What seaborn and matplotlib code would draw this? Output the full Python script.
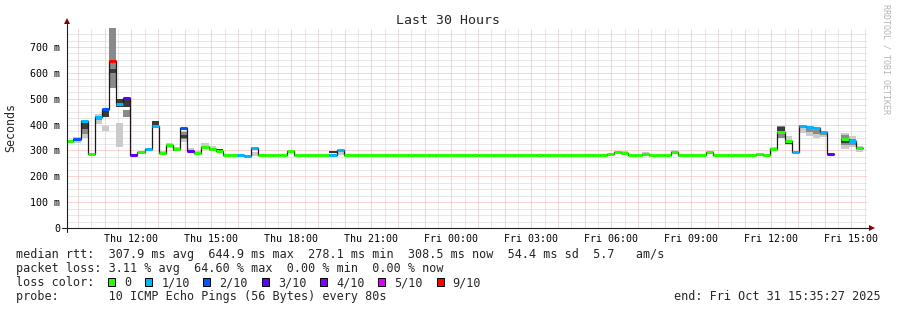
import numpy as np
import pandas as pd
import matplotlib
matplotlib.use("Agg")
import matplotlib.pyplot as plt
from matplotlib.patches import Rectangle
from matplotlib.ticker import FixedLocator, FixedFormatter
import seaborn as sns

# ------------------------------------------------------------------ data
title = "Last 30 Hours"
y_label = "Seconds"
window_start = "2025-10-30 09:35:27"
window_hours = 30
bin_minutes = 16
first_bin_offset_min = -1.6          # consolidated bins are aligned slightly before window start

# median rtt per 16-minute bin (ms); nan = no data
median_ms = [
    336, 343, 414, 286, 430, 461, 644.9, 480, 503, 283,
    293, 307, 393, 291, 320, 307, 386, 297, 291, 312,
    307, 297, 284, 284, 284, 278.1, 308, 284, 284, 284,
    284, 298, 284, 284, 284, 284, 284, 284, 302, 284,
    284, 284, 284, 284, 284, 284, 284, 284, 284, 284,
    284, 284, 284, 284, 284, 284, 284, 284, 284, 284,
    284, 284, 284, 284, 284, 284, 284, 284, 284, 284,
    284, 284, 284, 284, 284, 284, 288, 292, 290, 284,
    284, 287, 284, 284, 284, 294, 284, 284, 284, 284,
    293, 284, 284, 284, 284, 284, 284, 287, 284, 307,
    372, 336, 293, 394, 389, 385, 370, 285, np.nan, 344,
    336, 308.5,
]
# lost pings out of 10 per bin
loss_tenths = [
    0, 2, 1, 0, 1, 2, 9, 1, 3, 3,
    0, 1, 1, 0, 0, 0, 2, 3, 0, 0,
    0, 0, 0, 0, 1, 1, 1, 0, 0, 0,
    0, 0, 0, 0, 0, 0, 0, 1, 1, 0,
    0, 0, 0, 0, 0, 0, 0, 0, 0, 0,
    0, 0, 0, 0, 0, 0, 0, 0, 0, 0,
    0, 0, 0, 0, 0, 0, 0, 0, 0, 0,
    0, 0, 0, 0, 0, 0, 0, 0, 0, 0,
    0, 0, 0, 0, 0, 0, 0, 0, 0, 0,
    0, 0, 0, 0, 0, 0, 0, 0, 0, 0,
    0, 0, 1, 1, 1, 1, 1, 3, 0, 0,
    1, 0,
]

# smoke (spread of the individual pings), sparse per bin, ms
nan = np.nan
smoke_bin      = [1,   2,   4,   5,   6,   7,   8,   12,  13,  14,  15,  16,  17,  18,  19,  20,  21,  26,  37,  38,  78,  81,  85,  99,  100, 101, 103, 104, 105, 106, 109, 110, 111]
smoke_light_lo = [330, 350, 404, 376, nan, 315, nan, nan, 291, 308, 296, 334, 297, 291, 305, 300, nan, 278, nan, 282, 290, 287, 294, 304, nan, 320, 366, 356, 347, 351, 304, 314, 295]
smoke_light_hi = [351, 416, 440, 394, nan, 405, nan, nan, 298, 330, 312, 376, 308, 298, 328, 316, nan, 293, nan, 299, 296, 293, 302, 312, nan, 356, 398, 389, 379, 375, 369, 356, 317]
smoke_mid_lo   = [nan, 362, 418, nan, 540, nan, 430, nan, nan, nan, nan, 345, nan, nan, nan, 304, nan, nan, nan, nan, nan, nan, nan, nan, 347, nan, 385, 372, 365, 360, 320, 322, nan]
smoke_mid_hi   = [nan, 395, 432, nan, 780, nan, 458, nan, nan, nan, nan, 370, nan, nan, nan, 310, nan, nan, nan, nan, nan, nan, nan, nan, 394, nan, 398, 385, 379, 370, 360, 345, nan]
smoke_dark_lo  = [nan, 381, nan, 430, 598, 467, 467, 393, nan, nan, 299, 350, nan, nan, nan, nan, 297, nan, 289, nan, nan, nan, nan, nan, 375, 324, nan, nan, nan, nan, 327, nan, nan]
smoke_dark_hi  = [nan, 413, nan, 461, 614, 497, 500, 412, nan, nan, 306, 358, nan, nan, nan, nan, 305, nan, 298, nan, nan, nan, nan, nan, 392, 334, nan, nan, nan, nan, 340, nan, nan]

loss_keys = [0, 1, 2, 3, 4, 5, 9]
loss_labels = ["0", "1/10", "2/10", "3/10", "4/10", "5/10", "9/10"]
loss_colors = ["#26ff00", "#00b8ff", "#0059ff", "#5e00ff", "#7e00ff", "#dd00ff", "#ff0000"]

y_ticks = [0, 100, 200, 300, 400, 500, 600, 700]
y_tick_labels = ["0", "100 m", "200 m", "300 m", "400 m", "500 m", "600 m", "700 m"]
x_tick_times = ["2025-10-30 12:00", "2025-10-30 15:00", "2025-10-30 18:00", "2025-10-30 21:00",
                "2025-10-31 00:00", "2025-10-31 03:00", "2025-10-31 06:00", "2025-10-31 09:00",
                "2025-10-31 12:00", "2025-10-31 15:00"]
x_tick_labels = ["Thu 12:00", "Thu 15:00", "Thu 18:00", "Thu 21:00", "Fri 00:00",
                 "Fri 03:00", "Fri 06:00", "Fri 09:00", "Fri 12:00", "Fri 15:00"]

legend_rtt = "median rtt:  307.9 ms avg  644.9 ms max  278.1 ms min  308.5 ms now  54.4 ms sd  5.7   am/s"
legend_loss = "packet loss: 3.11 % avg  64.60 % max  0.00 % min  0.00 % now"
legend_color_title = "loss color:"
legend_probe = "probe:       10 ICMP Echo Pings (56 Bytes) every 80s"
legend_end = "end: Fri Oct 31 15:35:27 2025"
watermark = "RRDTOOL / TOBI OETIKER"

# ------------------------------------------------------------------ style
sns.set_style("white")
plt.rcParams["font.family"] = ["DejaVu Sans Mono"]
MONO = "DejaVu Sans Mono"

W, H = 897, 310
fig = plt.figure(figsize=(W / 100, H / 100), dpi=100)
fig.patch.set_facecolor("white")

def fx(x):
    return x / W

def fy(y):
    return 1 - y / H

ax = fig.add_axes([fx(67), fy(228), 800 / W, 200 / H])
ax.set_facecolor("white")

start = pd.Timestamp(window_start)
def hours_of(ts):
    return (pd.Timestamp(ts) - start) / pd.Timedelta(hours=1)

n_bins = len(median_ms)
med = np.array(median_ms, dtype=float)
loss = np.array(loss_tenths)
bin_w = bin_minutes / 60.0
left = first_bin_offset_min / 60.0 + np.arange(n_bins) * bin_w
right = left + bin_w

ax.set_xlim(0, window_hours)
ax.set_ylim(0, 773.5)

# grid / ticks
first_hour = hours_of(start.ceil("h"))
major_x = first_hour + np.arange(0, window_hours)
major_x = major_x[major_x <= window_hours]
minor_x = first_hour - 0.5 + np.arange(0, window_hours + 1)
minor_x = minor_x[(minor_x >= 0) & (minor_x <= window_hours)]
label_pos = [hours_of(t) for t in x_tick_times]
labels_full = []
for v in major_x:
    lab = ""
    for p, l in zip(label_pos, x_tick_labels):
        if abs(p - v) < 1e-6:
            lab = l
    labels_full.append(lab)
ax.xaxis.set_major_locator(FixedLocator(major_x))
ax.xaxis.set_major_formatter(FixedFormatter(labels_full))
ax.xaxis.set_minor_locator(FixedLocator(minor_x))
ax.yaxis.set_major_locator(FixedLocator(y_ticks))
ax.yaxis.set_major_formatter(FixedFormatter(y_tick_labels))
ax.yaxis.set_minor_locator(FixedLocator(np.arange(25, 775, 25)))

ax.set_axisbelow(True)
ax.grid(which="major", color="#ffaaaa", linestyle=(0, (1, 1)), linewidth=0.72)
ax.grid(which="minor", color="#d2d2d2", linestyle=(0, (1, 1)), linewidth=0.72)

for s in ax.spines.values():
    s.set_visible(False)

ax.tick_params(axis="x", which="major", length=2.2, width=0.72, color="#e07070",
               pad=2.2, labelsize=7.2, labelcolor="black")
ax.tick_params(axis="x", which="minor", length=1.5, width=0.72, color="#b0b0b0")
ax.tick_params(axis="y", which="major", length=2.2, width=0.72, color="#606060",
               pad=2.9, labelsize=7.2, labelcolor="black")
ax.tick_params(axis="y", which="minor", length=1.4, width=0.72, color="#b0b0b0")
for lab in ax.get_xticklabels() + ax.get_yticklabels():
    lab.set_family(MONO)

# smoke
bins_idx = np.array(smoke_bin)
for lo_arr, hi_arr, col in [(smoke_light_lo, smoke_light_hi, "#cbcbcb"),
                            (smoke_mid_lo, smoke_mid_hi, "#8a8a8a"),
                            (smoke_dark_lo, smoke_dark_hi, "#3a3a3a")]:
    lo = np.array(lo_arr, dtype=float)
    hi = np.array(hi_arr, dtype=float)
    ok = ~np.isnan(lo)
    ax.bar(left[bins_idx[ok]], hi[ok] - lo[ok], bottom=lo[ok], width=bin_w,
           align="edge", color=col, linewidth=0, zorder=2)

# median black step line (seaborn), broken at missing bins
rows = []
seg = 0
k = 0
while k < n_bins:
    if np.isnan(med[k]):
        k += 1
        continue
    j = k
    while j + 1 < n_bins and not np.isnan(med[j + 1]):
        j += 1
    for i in range(k, j + 1):
        rows.append((left[i], med[i], seg))
    rows.append((right[j], med[j], seg))
    seg += 1
    k = j + 1
df = pd.DataFrame(rows, columns=["x", "y", "seg"])
sns.lineplot(data=df, x="x", y="y", units="seg", estimator=None, sort=False,
             drawstyle="steps-post", color="#1a1a1a", linewidth=0.9, ax=ax,
             legend=False, zorder=3)
ax.set_xlabel("")
ax.set_ylabel("")

# colored median segments by loss
cmap = dict(zip(loss_keys, loss_colors))
valid = ~np.isnan(med)
ax.hlines(med[valid], left[valid], right[valid],
          colors=[cmap[int(l)] for l in loss[valid]], linewidth=2.2, zorder=4)

# axis lines with arrows
ax.plot([-5 / 800, 1 + 3 / 800], [0, 0], color="#202020", lw=0.8,
        transform=ax.transAxes, clip_on=False, zorder=5)
ax.plot([0, 0], [-4 / 200, 1 + 4 / 200], color="#202020", lw=0.8,
        transform=ax.transAxes, clip_on=False, zorder=5)
ax.plot([1 + 5 / 800], [0], marker=">", markersize=4.5, color="#8b0000",
        transform=ax.transAxes, clip_on=False, zorder=6, markeredgewidth=0)
ax.plot([0], [1 + 7 / 200], marker="^", markersize=4.5, color="#8b0000",
        transform=ax.transAxes, clip_on=False, zorder=6, markeredgewidth=0)

# ------------------------------------------------------------------ texts
fig.text(fx(448), fy(24), title, ha="center", va="baseline", fontsize=9.5, family=MONO)
fig.text(fx(11), fy(127), y_label, ha="center", va="center", rotation=90,
         fontsize=8.4, family=MONO)
fig.text(fx(886), fy(4), watermark, ha="center", va="top", rotation=270,
         fontsize=6, color="#b4b4b4", family=MONO)

LEG = 8.45
CW = 7.05
fig.text(fx(16), fy(258), legend_rtt, ha="left", va="baseline", fontsize=LEG, family=MONO)
fig.text(fx(16), fy(272), legend_loss, ha="left", va="baseline", fontsize=LEG, family=MONO)
fig.text(fx(16), fy(286), legend_color_title, ha="left", va="baseline", fontsize=LEG, family=MONO)
bx = 108.0
for lab, col in zip(loss_labels, loss_colors):
    fig.add_artist(Rectangle((fx(bx), fy(286)), 7 / W, 8 / H, transform=fig.transFigure,
                             facecolor=col, edgecolor="black", linewidth=0.72))
    lx = bx + 16
    fig.text(fx(lx), fy(286), lab, ha="left", va="baseline", fontsize=LEG, family=MONO)
    bx = lx + (len(lab) + 2) * CW
fig.text(fx(16), fy(300), legend_probe, ha="left", va="baseline", fontsize=LEG, family=MONO)
fig.text(fx(881), fy(300), legend_end, ha="right", va="baseline", fontsize=LEG, family=MONO)

fig.savefig("out.png", dpi=100, facecolor="white")
